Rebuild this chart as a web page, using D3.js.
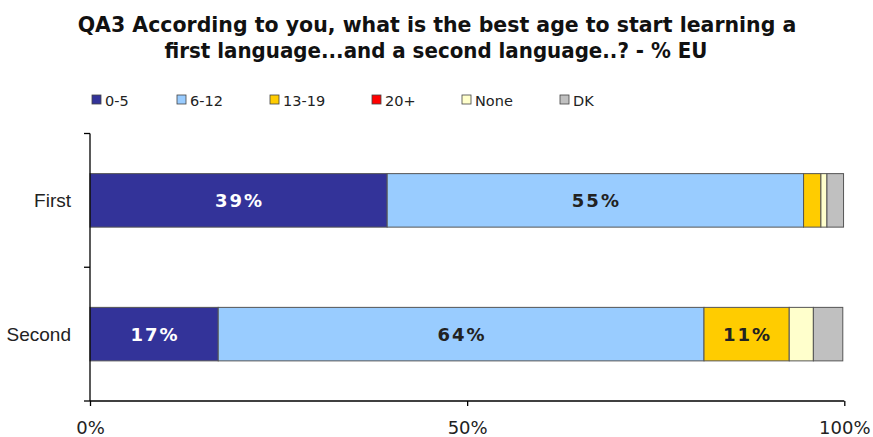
<!DOCTYPE html>
<html><head><meta charset="utf-8">
<script src="https://cdn.jsdelivr.net/npm/d3@7"></script>
<style>body{margin:0;background:#fff}svg{display:block}</style>
</head><body><svg id="c" width="873" height="437"></svg>
<script>
const categories = ["First", "Second"];
const seriesNames = ["0-5", "6-12", "13-19", "20+", "None", "DK"];
const seriesColors = ["#333399", "#99CCFF", "#FFCC00", "#FF0000", "#FFFFCC", "#C0C0C0"];
const firstValues = [39.4, 55.2, 2.3, 0, 0.8, 2.2];
const secondValues = [17.0, 64.4, 11.3, 0, 3.2, 3.9];
const xTicks = [0, 50, 100];
const titleLines = ["QA3 According to you, what is the best age to start learning a", "first language...and a second language..? - % EU"];

const svg = d3.select("#c");
const rows = [firstValues, secondValues].map((vals, i) => {
  let acc = 0;
  return {cat: categories[i], segs: vals.map((v, j) => { const s = {v, j, x0: acc, x1: acc + v}; acc += v; return s; })};
});

const x = d3.scaleLinear().domain([0, 100]).range([90, 844.3]);
const y = d3.scaleBand().domain(categories).range([133.5, 401]).paddingInner(0.6).paddingOuter(0.3);

// title: fit first line to its width in the reference, same size for second line
const titleCenters = [437, 436];
const title = svg.append("g").selectAll("text").data(titleLines).join("text")
  .attr("x", (d, i) => titleCenters[i]).attr("y", (d, i) => 32 + i * 26)
  .attr("text-anchor", "middle")
  .style("font-family", "'DejaVu Sans',Verdana,sans-serif")
  .style("font-weight", "bold").style("font-size", "19px").style("fill", "#111")
  .text(d => d);
const w0 = title.nodes()[0].getComputedTextLength();
const fs = 19 * 719 / w0;
title.style("font-size", fs + "px");
title.filter((d, i) => i === 1).attr("textLength", 543).attr("lengthAdjust", "spacingAndGlyphs");

// legend
const legX = [92, 177, 270, 372, 462, 560];
const leg = svg.append("g").selectAll("g").data(seriesNames).join("g")
  .attr("transform", (d, i) => `translate(${legX[i]},100)`);
leg.append("rect").attr("x", 0).attr("y", -5).attr("width", 9).attr("height", 9)
  .attr("fill", (d, i) => seriesColors[i]).attr("stroke", "#444").attr("stroke-width", 0.8);
leg.append("text").attr("x", 13).attr("y", 5.5)
  .style("font-family", "'DejaVu Sans',Verdana,sans-serif").style("font-size", "14.5px").style("fill", "#222")
  .text(d => d);

// bars
const bars = svg.append("g");
rows.forEach(r => {
  bars.selectAll(null).data(r.segs.filter(s => s.v > 0)).join("rect")
    .attr("x", s => x(s.x0)).attr("width", s => x(s.x1) - x(s.x0))
    .attr("y", y(r.cat)).attr("height", y.bandwidth())
    .attr("fill", s => seriesColors[s.j]).attr("stroke", "#555").attr("stroke-width", 1);
  bars.selectAll(null).data(r.segs.filter(s => s.v >= 10)).join("text")
    .attr("x", s => x((s.x0 + s.x1) / 2) + 1).attr("y", y(r.cat) + y.bandwidth() / 2 + 6.5)
    .attr("text-anchor", "middle")
    .style("font-family", "'DejaVu Sans',Verdana,sans-serif").style("font-weight", "bold")
    .style("font-size", "18px").style("letter-spacing", "2px")
    .style("fill", s => s.j === 0 ? "#fff" : "#222")
    .text(s => Math.round(s.v) + "%");
});

// y axis
const ya = svg.append("g").attr("transform", "translate(90,0)");
ya.append("line").attr("x1", 0).attr("x2", 0).attr("y1", 133.5).attr("y2", 401).attr("stroke", "#000").attr("stroke-width", 1.3);
ya.selectAll("line.t").data([0, 1, 2]).join("line").attr("class", "t")
  .attr("x1", -6).attr("x2", 0)
  .attr("y1", i => 133.5 + i * y.step()).attr("y2", i => 133.5 + i * y.step())
  .attr("stroke", "#000").attr("stroke-width", 1.3);
ya.selectAll("text").data(categories).join("text")
  .attr("x", -19).attr("y", c => y(c) + y.bandwidth() / 2 + 6.5)
  .attr("text-anchor", "end")
  .style("font-family", "'Liberation Sans',Arial,sans-serif").style("font-size", "19px").style("fill", "#222")
  .text(c => c);

// x axis
const xa = svg.append("g").attr("transform", "translate(0,401)")
  .call(d3.axisBottom(x).tickValues(xTicks).tickSize(5).tickFormat(d => d + "%"));
xa.select(".domain").attr("d", `M${x(0)},0H${x(100)}`).attr("stroke-width", 1.3);
xa.selectAll(".tick line").attr("stroke-width", 1.3);
xa.selectAll("text").attr("dy", 0).attr("y", 33)
  .style("font-family", "'DejaVu Sans',Verdana,sans-serif").style("font-size", "18px").style("fill", "#222");
</script></body></html>
